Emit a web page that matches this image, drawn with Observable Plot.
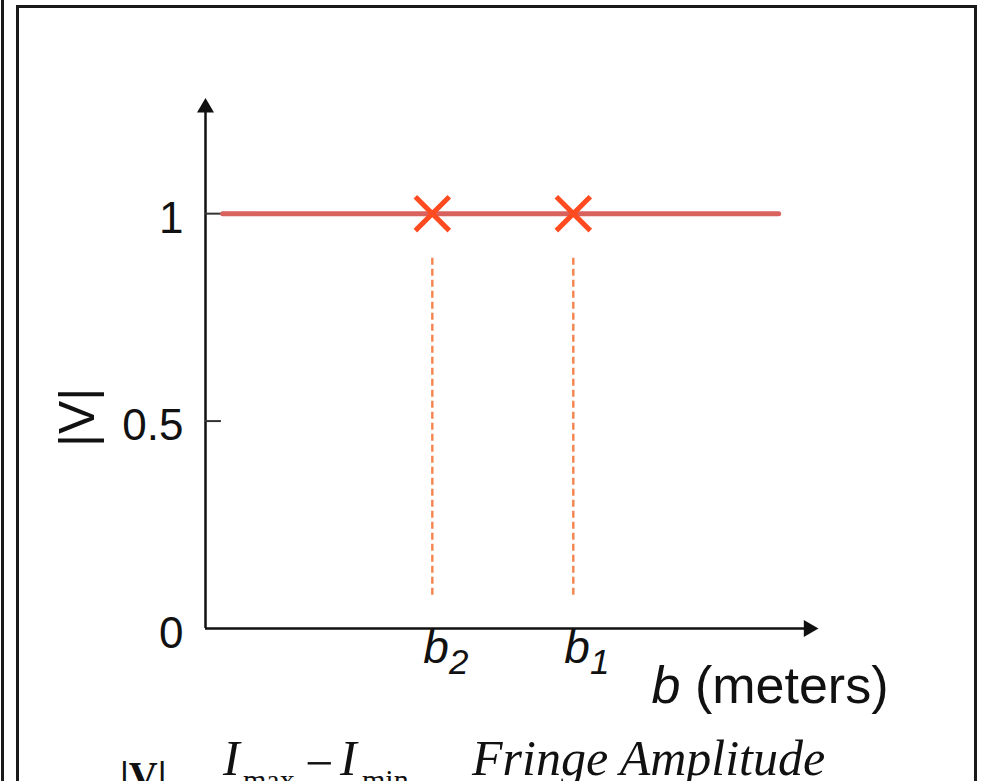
<!DOCTYPE html>
<html>
<head>
<meta charset="utf-8">
<script src="https://cdn.jsdelivr.net/npm/d3@7"></script>
<script src="https://cdn.jsdelivr.net/npm/@observablehq/plot@0.6"></script>
<style>
  html, body { margin: 0; background: #fff; overflow: hidden; }
  #page { position: relative; width: 981px; height: 781px; overflow: hidden; }
  #edge { position: absolute; left: 1px; top: 0; height: 781px; border-left: 3px solid #1a1a1a; }
  #frame { position: absolute; left: 16px; top: 5px; width: 961px; height: 900px;
           border: 3px solid #1a1a1a; box-sizing: border-box; }
  #chart { position: absolute; left: 0; top: 0; }
  #formula { position: absolute; left: 0; top: 735px; width: 981px; height: 100px;
             font-family: "Liberation Serif", "Times New Roman", serif; color: #111; }
  #formula span { position: absolute; white-space: nowrap; line-height: 1; }
  .it { font-style: italic; }
</style>
</head>
<body>
<div id="page">
  <div id="edge"></div>
  <div id="frame"></div>
  <div id="chart"></div>
  <div id="formula">
    <span style="left:120px;top:21px;font-size:40px;font-weight:bold">|V|</span>
    <span class="it" style="left:223px;top:-2px;font-size:50px">I</span>
    <span style="left:243px;top:30px;font-size:30px">max</span>
    <span style="left:305px;top:3px;font-size:50px">−</span>
    <span class="it" style="left:340px;top:-2px;font-size:50px">I</span>
    <span style="left:362px;top:30px;font-size:30px">min</span>
    <span class="it" style="left:472px;top:-2px;font-size:50px">Fringe Amplitude</span>
  </div>
</div>
<script>
// Baselines where the fringe visibility was measured
const baselineLabels = ["b2", "b1"];
const baselineValues = [3.7, 6.0];

// Visibility curve: |V| stays at 1 across all baselines
const curveB = [0.28, 9.35];
const curveV = [1, 1];

// Y-axis tick values
const yTicks = [0, 0.5, 1];

const curve = curveB.map((b, i) => ({b, v: curveV[i]}));
const baselines = baselineValues.map((b, i) => ({b, name: baselineLabels[i], v: 1}));

const plot = Plot.plot({
  width: 981,
  height: 735,
  marginLeft: 205,
  marginRight: 163,
  marginTop: 97,
  marginBottom: 107,
  x: {domain: [0, 10], axis: null},
  y: {domain: [0, 1.28], axis: null},
  style: {fontFamily: "'Liberation Sans', Arial, sans-serif", color: "#111", background: "transparent"},
  marks: [
    // axes with filled arrow heads
    Plot.ruleX([0], {y1: 0, y2: 1.25, stroke: "#111", strokeWidth: 2.5}),
    Plot.dot([{x: 0, y: 1.2554}], {x: "x", y: "y", symbol: "triangle", r: 6.3, fill: "#111", stroke: null}),
    Plot.ruleY([0], {x1: 0, x2: 9.8, stroke: "#111", strokeWidth: 2.5}),
    Plot.dot([{x: 9.84, y: 0}], {x: "x", y: "y", symbol: "triangle", r: 6.3, rotate: 90, fill: "#111", stroke: null}),
    // inward tick marks on the y axis
    Plot.ruleY([0.5, 1], {x1: 0, x2: 0.26, stroke: "#333", strokeWidth: 2}),
    Plot.axisY(yTicks, {tickSize: 0, tickPadding: 22, fontSize: 44, label: null, dy: 5, fill: "#111", tickFormat: d => `${d}`}),
    // dashed drop lines under each measured baseline
    Plot.ruleX(baselines, {x: "b", y1: 0.08, y2: 0.9, stroke: "#f4844e", strokeWidth: 2.4, strokeDasharray: "7,4"}),
    // visibility curve
    Plot.line(curve, {x: "b", y: "v", stroke: "#d8625e", strokeWidth: 5}),
    // measurements
    Plot.dot(baselines, {x: "b", y: "v", symbol: "times", r: 15.5, stroke: "#ff4b1f", strokeWidth: 5}),
    // baseline tick labels
    Plot.text(baselines, {x: "b", y: 0, text: "name", textAnchor: "start", dx: -9, dy: 20, fontSize: 46, fill: "#111"}),
    // axis titles
    Plot.text(["b (meters)"], {text: d => d, frameAnchor: "bottom-right", textAnchor: "end", fontSize: 52, dx: 70, dy: 74, fill: "#111"}),
    Plot.text(["|V|"], {text: d => d, frameAnchor: "left", rotate: -90, fontSize: 50, dx: -128, dy: 84, fill: "#111"})
  ]
});

// Italic symbols and subscripts in the labels
d3.select(plot).selectAll("text").each(function () {
  const t = this.textContent;
  const sel = d3.select(this);
  let m = /^b(\d)$/.exec(t);
  if (m) {
    sel.text(null);
    sel.append("tspan").attr("font-style", "italic").text("b");
    sel.append("tspan").attr("font-style", "italic").attr("font-size", 35).attr("dy", 11).text(m[1]);
  } else if (t === "b (meters)") {
    sel.text(null);
    sel.append("tspan").attr("font-style", "italic").text("b");
    sel.append("tspan").text(" (meters)");
  }
});

document.getElementById("chart").appendChild(plot);
</script>
</body>
</html>
